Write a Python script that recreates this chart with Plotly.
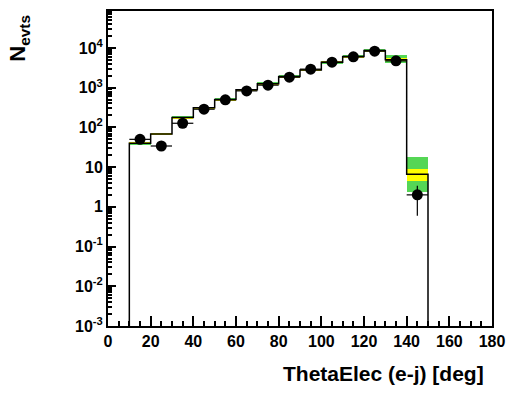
import plotly.graph_objects as go

# ---- data ----
bin_lo = [10, 20, 30, 40, 50, 60, 70, 80, 90, 100, 110, 120, 130, 140]
bin_width = 10
mc_values = [40, 68, 177, 310, 500, 880, 1250, 1900, 2800, 4380, 6080, 8600, 5010, 6.6]
green_lo = [37, 63, 163, 285, 460, 810, 1150, 1750, 2580, 4030, 5600, 7900, 4140, 2.4]
green_hi = [43, 73, 191, 335, 540, 950, 1350, 2050, 3020, 4730, 6560, 9300, 6700, 17.7]
yellow_lo = [38.5, 65.5, 170, 297, 480, 845, 1200, 1825, 2690, 4200, 5840, 8250, 4600, 4.57]
yellow_hi = [41.5, 70.5, 184, 323, 520, 915, 1300, 1975, 2910, 4560, 6320, 8950, 5500, 9.0]

data_x = [15, 25, 35, 45, 55, 65, 75, 85, 95, 105, 115, 125, 135, 145]
data_y = [50, 34, 127, 287, 493, 830, 1157, 1838, 2924, 4386, 5970, 8300, 4730, 2.0]
data_err = [7, 6, 11, 17, 22, 29, 34, 43, 54, 66, 77, 91, 69, 1.4]
data_xerr = 5

x_range = [0, 180]
x_tick_vals = [0, 20, 40, 60, 80, 100, 120, 140, 160, 180]
y_log_range = [-3, 4.93]
y_floor = 10 ** y_log_range[0]

major_y = [1e-3, 1e-2, 1e-1, 1, 10, 1e2, 1e3, 1e4]
major_y_text = ["10<sup>-3</sup>", "10<sup>-2</sup>", "10<sup>-1</sup>", "1", "10",
                "10<sup>2</sup>", "10<sup>3</sup>", "10<sup>4</sup>"]
minor_y = [m * 10 ** e for e in range(-3, 5) for m in range(2, 10) if m * 10 ** e < 10 ** y_log_range[1]]

GREEN = "#55d655"
YELLOW = "#ffff00"
FONT = "Arial, Liberation Sans, sans-serif"

centers = [b + bin_width / 2 for b in bin_lo]

fig = go.Figure()

fig.add_trace(go.Bar(
    x=centers, y=[h - l for h, l in zip(green_hi, green_lo)], base=green_lo,
    width=bin_width, marker=dict(color=GREEN, line=dict(width=0)), hoverinfo="skip"))
fig.add_trace(go.Bar(
    x=centers, y=[h - l for h, l in zip(yellow_hi, yellow_lo)], base=yellow_lo,
    width=bin_width, marker=dict(color=YELLOW, line=dict(width=0)), hoverinfo="skip"))

# step histogram
step_x = [bin_lo[0]] + bin_lo + [bin_lo[-1] + bin_width, bin_lo[-1] + bin_width]
step_y = [y_floor] + mc_values + [mc_values[-1], y_floor]
fig.add_trace(go.Scatter(
    x=step_x, y=step_y, mode="lines", line=dict(color="black", width=1.5, shape="hv"),
    hoverinfo="skip"))

fig.add_trace(go.Scatter(
    x=data_x, y=data_y, mode="markers",
    marker=dict(color="black", size=11),
    error_y=dict(type="data", array=data_err, color="black", thickness=1.2, width=0),
    error_x=dict(type="constant", value=data_xerr, color="black", thickness=1.2, width=0)))

fig.update_layout(
    width=511, height=393,
    margin=dict(l=108, r=19, t=11, b=67, autoexpand=False),
    paper_bgcolor="white", plot_bgcolor="white",
    showlegend=False, barmode="overlay", bargap=0,
    font=dict(family=FONT, color="black"),
)

fig.update_xaxes(
    range=x_range, showgrid=False, zeroline=False, automargin=False,
    showline=True, linecolor="black", linewidth=2, mirror=True,
    ticks="inside", ticklen=10, tickwidth=2, tickcolor="black",
    tickmode="array", tickvals=x_tick_vals,
    ticktext=[f"<b>{v}</b>" for v in x_tick_vals],
    tickfont=dict(family=FONT, size=16, color="black", weight="bold"),
    minor=dict(dtick=5, ticks="inside", ticklen=5, tickwidth=1.5, tickcolor="black"),
)
fig.update_yaxes(
    type="log", range=y_log_range, showgrid=False, zeroline=False, automargin=False,
    showline=True, linecolor="black", linewidth=2, mirror=True,
    ticks="inside", ticklen=8, tickwidth=2, tickcolor="black",
    tickmode="array", tickvals=major_y, ticktext=[f"<b>{t}</b>" for t in major_y_text],
    tickfont=dict(family=FONT, size=16, color="black", weight="bold"),
    minor=dict(tickmode="array", tickvals=minor_y, ticks="inside", ticklen=4,
               tickwidth=1.5, tickcolor="black"),
)

fig.add_annotation(
    text="<b>ThetaElec (e-j) [deg]</b>", xref="paper", yref="paper", x=0.985, y=0,
    xanchor="right", yanchor="top", yshift=-34, showarrow=False,
    font=dict(family=FONT, size=21, color="black", weight="bold"))
fig.add_annotation(
    text="<b>N<sub>evts</sub></b>", xref="paper", yref="paper", x=-0.232, y=0.915,
    xanchor="center", yanchor="middle", textangle=-90, showarrow=False,
    font=dict(family=FONT, size=22, color="black", weight="bold"))

fig.write_html("out.html", config={"displayModeBar": False},
               post_script="document.body.style.margin='0';")
